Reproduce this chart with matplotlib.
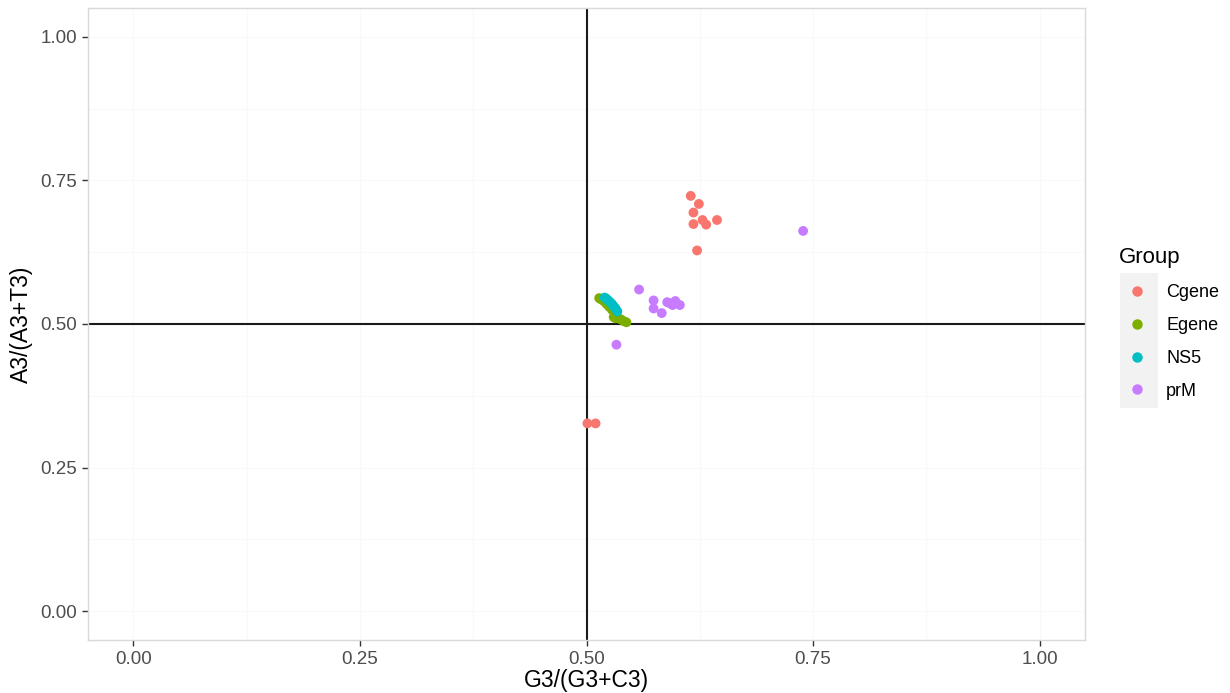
import numpy as np
import matplotlib
matplotlib.use('Agg')
import matplotlib.pyplot as plt
from matplotlib import patches

plt.rcParams['font.family'] = ['Liberation Sans', 'DejaVu Sans']

# data
cgene_x = [0.615, 0.624, 0.618, 0.628, 0.632, 0.618, 0.644, 0.622, 0.501, 0.510]
cgene_y = [0.723, 0.709, 0.694, 0.681, 0.673, 0.674, 0.681, 0.628, 0.327, 0.327]

egene_x = [0.514, 0.516, 0.519, 0.522, 0.525, 0.528, 0.530, 0.532, 0.535, 0.538, 0.541, 0.544]
egene_y = [0.545, 0.543, 0.540, 0.535, 0.530, 0.525, 0.512, 0.510, 0.510, 0.508, 0.505, 0.503]

ns5_x = [0.520, 0.522, 0.524, 0.526, 0.528, 0.530, 0.532, 0.534]
ns5_y = [0.546, 0.544, 0.541, 0.538, 0.535, 0.531, 0.527, 0.522]

prm_x = [0.739, 0.558, 0.574, 0.589, 0.598, 0.595, 0.603, 0.574, 0.583, 0.533, 0.592]
prm_y = [0.662, 0.560, 0.541, 0.538, 0.540, 0.533, 0.533, 0.527, 0.519, 0.464, 0.536]

groups = ['Cgene', 'Egene', 'NS5', 'prM']
colors = ['#F8766D', '#7CAE00', '#00BFC4', '#C77CFF']
ticks = [0.00, 0.25, 0.50, 0.75, 1.00]
tick_labels = ['0.00', '0.25', '0.50', '0.75', '1.00']

fig = plt.figure(figsize=(12.3, 6.93), dpi=100)
ax = fig.add_axes([88 / 1230, 1 - 640 / 693, (1085 - 88) / 1230, (640 - 8) / 693])

ax.set_xlim(-0.05, 1.05)
ax.set_ylim(-0.05, 1.05)

# very faint ggplot-style grid
for v in np.arange(0, 1.01, 0.125):
    ax.axvline(v, color='#F9F9F9', lw=0.8, zorder=0)
    ax.axhline(v, color='#F9F9F9', lw=0.8, zorder=0)

ax.axhline(0.5, color='#1a1a1a', lw=1.5, zorder=1)
ax.axvline(0.5, color='#1a1a1a', lw=1.5, zorder=1)

series = [(cgene_x, cgene_y), (egene_x, egene_y), (ns5_x, ns5_y), (prm_x, prm_y)]
handles = []
for (xs, ys), g, c in zip(series, groups, colors):
    ax.scatter(xs, ys, s=50, color=c, edgecolors='none', zorder=3)
    handles.append(plt.Line2D([0], [0], marker='o', linestyle='', color=c,
                              markersize=6.5, label=g))

ax.set_xticks(ticks)
ax.set_xticklabels(tick_labels)
ax.set_yticks(ticks)
ax.set_yticklabels(tick_labels)
ax.tick_params(labelsize=13.5, labelcolor='#4D4D4D', color='#333333', length=4.5, width=1)

for s in ax.spines.values():
    s.set_color('#D9D9D9')
    s.set_linewidth(1)

ax.set_xlabel('G3/(G3+C3)', fontsize=16.5, labelpad=1)
ax.set_ylabel('A3/(A3+T3)', fontsize=16.5, labelpad=5)

# legend key background
fig.patches.append(patches.Rectangle((1120 / 1230, 1 - 408 / 693), 38 / 1230, 135 / 693,
                                     transform=fig.transFigure, facecolor='#F2F2F2',
                                     edgecolor='none', zorder=0))
leg = fig.legend(handles=handles, title='Group', loc='upper left',
                 bbox_to_anchor=(1112 / 1230, 1 - 240 / 693), frameon=False,
                 fontsize=13, title_fontsize=16, labelspacing=0.88,
                 handlelength=2.0, handletextpad=0.6, borderaxespad=0)
leg._legend_box.align = 'left'

fig.savefig('out.png', dpi=100, facecolor='white')
